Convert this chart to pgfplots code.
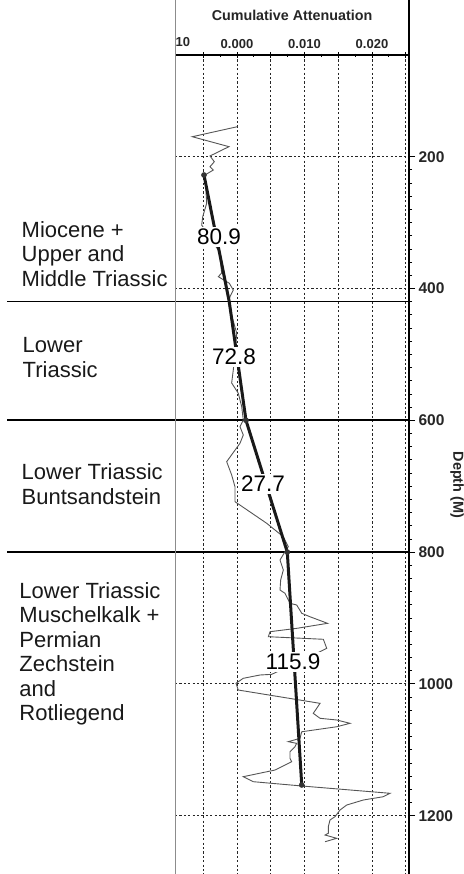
\documentclass[border=0pt]{standalone}
\usepackage{fontspec}
\setmainfont{Liberation Sans}
\usepackage{pgfplots}
\pgfplotsset{compat=1.18}
\definecolor{curvegray}{HTML}{555555}
\definecolor{dotgray}{HTML}{333333}
\begin{document}
\begin{tikzpicture}[x=1pt,y=1pt]
\path[use as bounding box] (0,0) rectangle (463,-874);
\begin{axis}[
  at={(175pt,-55pt)}, anchor=north west,
  scale only axis, width=234pt, height=819pt,
  xmin=-0.009185, xmax=0.02548,
  ymin=45.7, ymax=1288.5,
  y dir=reverse,
  clip=false,
  axis x line*=top, axis y line*=right,
  axis line style={line width=2pt, black},
  xtick={-0.005,0,0.005,0.01,0.015,0.02,0.025},
  xticklabels={,0.000,,0.010,,0.020,},
  minor x tick num=1,
  scaled x ticks=false,
  ytick={200,400,600,800,1000,1200},
  minor y tick num=9,
  xtick align=center, ytick align=outside,
  major tick length=6pt, minor tick length=3pt,
  every tick/.style={black, line width=0.8pt},
  /pgf/number format/assume math mode=true,
  /pgf/number format/set thousands separator={},
  xticklabel style={font=\bfseries\fontsize{13}{13}\selectfont, text=black!85},
  yticklabel style={font=\bfseries\fontsize{15.5}{15.5}\selectfont, text=black!85},
  xmajorgrids, ymajorgrids,
  major grid style={black!85, line width=0.8pt, dash pattern=on 2.2pt off 2.2pt},
]
% formation boundaries
\draw[line width=1.6pt, black] (axis cs:-0.03407,420) -- (axis cs:0.02548,420);
\draw[line width=1.6pt, black] (axis cs:-0.03407,600) -- (axis cs:0.02548,600);
\draw[line width=1.6pt, black] (axis cs:-0.03407,800) -- (axis cs:0.02548,800);
% measured cumulative attenuation
\addplot[curvegray, line width=0.9pt, mark=none] coordinates {
(0.00004,154.5) (-0.00662,169.7) (-0.00119,184.8) (-0.0040,198.9) (-0.00336,207.6)
(-0.0040,215.2) (-0.00351,220.2) (-0.00474,227.8) (-0.00449,270.7) (-0.00508,291.1)
(-0.00523,303.7) (-0.00262,344.2) (-0.00227,376.5) (-0.00277,382.1) (-0.00114,392.1)
(-0.00055,402.3) (-0.00104,412.5) (-0.00129,422.5) (-0.00004,468.0) (-0.00055,523.7)
(-0.00079,543.4) (0.00019,559.0) (0.0007,579.4) (0.00093,599.6) (0.00044,609.7)
(0.00093,622.3) (0.00044,634.9) (-0.00153,662.8) (-0.00079,683.0) (-0.0003,700.8)
(-0.0003,723.5) (0.0044,756.3) (0.00686,776.7) (0.0076,791.8) (0.00711,799.4)
(0.00637,812.0) (0.00686,827.1) (0.00647,842.3) (0.00637,857.5) (0.00711,862.5)
(0.00785,877.7) (0.00884,880.3) (0.0096,892.9) (0.01081,898.1) (0.01341,908.1)
(0.00884,915.7) (0.00489,920.8) (0.00464,928.4) (0.01279,932.3) (0.01329,946.0)
(0.01181,953.6) (0.00514,985.5) (0.00341,986.5) (0.00093,991.5) (-0.00015,999.1)
(0.00019,1009.3) (0.0123,1029.5) (0.0113,1044.7) (0.0123,1052.2) (0.01479,1054.8)
(0.01674,1059.8) (0.01479,1065.0) (0.00959,1072.6) (0.00933,1082.6) (0.0076,1087.7)
(0.00884,1090.2) (0.00859,1095.3) (0.00785,1102.9) (0.00785,1112.9) (0.0081,1118.1)
(0.00711,1123.1) (0.00563,1130.7) (0.00093,1140.8) (0.00241,1148.4) (0.00959,1154.9)
(0.02267,1166.0) (0.02167,1171.2) (0.01871,1176.2) (0.01625,1183.8) (0.01526,1191.4)
(0.01452,1201.5) (0.01378,1206.5) (0.01353,1216.7) (0.01353,1226.7) (0.01304,1229.3)
(0.01477,1234.3) (0.01304,1239.5)
};
% fitted segments
\addplot[black!90, line width=3pt, mark=none] coordinates {
(-0.00489,227.8) (-0.00114,420.5) (0.00133,600) (0.00745,800) (0.00959,1153.4)
};
\addplot[only marks, mark=*, mark size=2.6pt, dotgray] coordinates {
(-0.00489,227.8) (0.00133,600) (0.00745,800) (0.00959,1153.4)
};
% segment labels
\node[fill=white, inner sep=2.5pt, font=\fontsize{22.5}{22.5}\selectfont] at (axis cs:-0.00267,321.9) {80.9};
\node[fill=white, inner sep=2.5pt, font=\fontsize{22.5}{22.5}\selectfont] at (axis cs:-0.00044,504.0) {72.8};
\node[fill=white, inner sep=2.5pt, font=\fontsize{22.5}{22.5}\selectfont] at (axis cs:0.00385,696.7) {27.7};
\node[fill=white, inner sep=2.5pt, font=\fontsize{22.5}{22.5}\selectfont] at (axis cs:0.0083,966.8) {115.9};
\end{axis}
% frame extensions
\draw[black!45, line width=0.8pt] (175,0) -- (175,-874);
\draw[black, line width=2pt] (409,0) -- (409,-55);
% titles
\node[anchor=base, font=\bfseries\fontsize{14.3}{14.3}\selectfont, text=black!85] at (292,-20.7) {Cumulative Attenuation};
\node[anchor=base west, inner sep=0pt, font=\bfseries\fontsize{13}{13}\selectfont, text=black!85] at (175.5,-46.7) {10};
\node[rotate=-90, font=\bfseries\fontsize{14.5}{14.5}\selectfont, text=black!85] at (457,-485) {Depth (M)};
% formation names
\begin{scope}[every node/.style={anchor=base west, inner sep=0pt, font=\fontsize{22}{22}\selectfont, text=black!90}]
\node at (21.5,-237.3) {Miocene +};
\node at (21.5,-261.7) {Upper and};
\node at (21.5,-286.1) {Middle Triassic};
\node at (22.5,-352.7) {Lower};
\node at (22.5,-377.3) {Triassic};
\node at (21.5,-479.3) {Lower Triassic};
\node at (21.5,-504.0) {Buntsandstein};
\node at (19.3,-598.3) {Lower Triassic};
\node at (19.3,-622.7) {Muschelkalk +};
\node at (19.3,-647.0) {Permian};
\node at (19.3,-671.5) {Zechstein};
\node at (19.3,-696.0) {and};
\node at (19.3,-720.4) {Rotliegend};
\end{scope}
\end{tikzpicture}
\end{document}
